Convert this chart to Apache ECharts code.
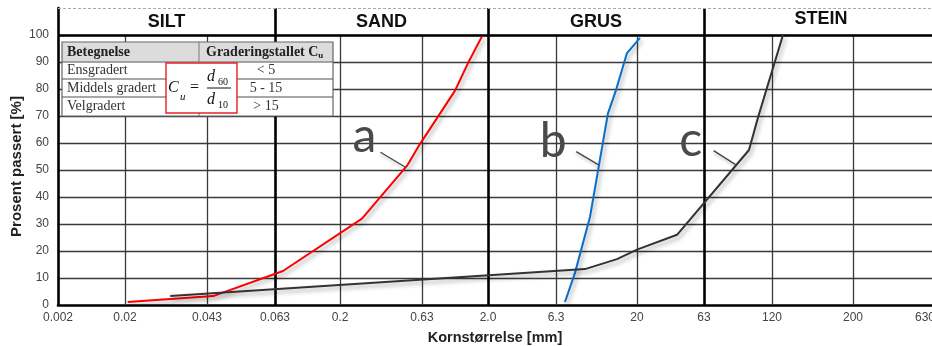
<!DOCTYPE html>
<html><head><meta charset="utf-8">
<script src="https://cdn.jsdelivr.net/npm/echarts@6/dist/echarts.min.js"></script>
<style>html,body{margin:0;padding:0;background:#fff}#c{width:932px;height:346px}</style>
</head><body><div id="c"></div>
<script>
// ---- axis definition (grain size in mm, non-uniform printed scale) ----
const tickSizes  = [0.002, 0.02, 0.043, 0.063, 0.2, 0.63, 2, 6.3, 20, 63, 120, 200, 630];
const tickLabels = ['0.002','0.02','0.043','0.063','0.2','0.63','2.0','6.3','20','63','120','200','630'];
const tickPos    = [0, 67, 149, 217, 282, 364, 430, 498, 579, 646, 714, 795, 867];
const axisEnd = 874;
const boundarySizes = [0.063, 2, 63];
const zoneNames = ['SILT', 'SAND', 'GRUS', 'STEIN'];
const zoneStarts = [0.002, 0.063, 2, 63];

// ---- curves: grain size [mm] and percent passing ----
const sizeA = [0.0205, 0.0445, 0.0726, 0.272, 0.51, 0.612, 1.12, 1.41, 1.80];
const passA = [1.1, 3.3, 12.6, 32, 51.5, 59.6, 79.3, 89.6, 99.5];
const sizeB = [7.16, 8.26, 10.23, 11.63, 13.22, 14.83, 17.34, 21.06];
const passB = [1.1, 11.9, 32.6, 51.8, 71, 79.6, 93.3, 98.9];
const sizeC = [0.0305, 9.53, 15.03, 20, 39.7, 96.5, 105, 128.6];
const passC = [3.3, 13.3, 17, 20.5, 26, 57.4, 69.3, 100];

const curveLabels = ['a', 'b', 'c'];
const labelSizes = [0.5, 11.5, 85];
const labelPass = [51, 52, 52];

// ---- table inset ----
const tableHead = ['Betegnelse', 'Graderingstallet C'];
const tableNames = ['Ensgradert', 'Middels gradert', 'Velgradert'];
const tableValues = ['< 5', '5 - 15', '> 15'];

function toPos(mm) {
  for (let i = 0; i < tickSizes.length - 1; i++) {
    const a = tickSizes[i], b = tickSizes[i + 1];
    if (mm <= b || i === tickSizes.length - 2) {
      const t = (Math.log10(mm) - Math.log10(a)) / (Math.log10(b) - Math.log10(a));
      return tickPos[i] + t * (tickPos[i + 1] - tickPos[i]);
    }
  }
}
const pts = (s, p) => s.map((v, i) => [toPos(v), p[i]]);

const shadow = {shadowColor: 'rgba(0,0,0,0.35)', shadowBlur: 4, shadowOffsetX: 2, shadowOffsetY: 3};

// grid lines via markLine
const gridLines = [];
tickPos.forEach((p, i) => {
  if (i === 0 || i === tickPos.length - 1) return;
  const thick = boundarySizes.includes(tickSizes[i]);
  gridLines.push([
    {coord: [p, 0], lineStyle: {color: thick ? '#000' : '#3a3a3a', width: thick ? 2.6 : 1.3, type: 'solid'}},
    {coord: [p, thick ? 110 : 100]}
  ]);
});
gridLines.push([{coord: [0, 100], lineStyle: {color: '#000', width: 2.6, type: 'solid'}}, {coord: [axisEnd, 100]}]);
gridLines.push([{coord: [0, 110], lineStyle: {color: '#aaa', width: 1, type: [3, 2]}}, {coord: [axisEnd, 110]}]);

const chart = echarts.init(document.getElementById('c'));
const baseFont = 'Liberation Sans, Arial, sans-serif';
chart.setOption({
  animation: false,
  backgroundColor: '#fff',
  grid: {left: 58, right: 0, top: 8, bottom: 41, outerBoundsMode: 'none', containLabel: false},
  xAxis: {
    type: 'value', min: 0, max: axisEnd,
    name: 'Kornstørrelse [mm]', nameLocation: 'middle', nameGap: 25, nameMoveOverlap: false,
    nameTextStyle: {fontFamily: baseFont, fontWeight: 'bold', fontSize: 14.5, color: '#222'},
    axisLine: {show: true, lineStyle: {color: '#000', width: 2.6}},
    axisTick: {show: false},
    splitLine: {show: false},
    axisLabel: {
      customValues: tickPos, margin: 7, hideOverlap: false,
      fontFamily: baseFont, fontSize: 12, color: '#444',
      formatter: v => { const i = tickPos.indexOf(v); return i >= 0 ? tickLabels[i] : ''; }
    }
  },
  yAxis: {
    type: 'value', min: 0, max: 110, interval: 10,
    name: 'Prosent passert [%]', nameLocation: 'middle', nameGap: 34, nameMoveOverlap: false,
    nameTextStyle: {fontFamily: baseFont, fontWeight: 'bold', fontSize: 15, color: '#222', padding: [0, 20, 0, 0]},
    axisLine: {show: true, lineStyle: {color: '#000', width: 2.6}},
    axisTick: {show: false},
    axisLabel: {fontFamily: baseFont, fontSize: 12, color: '#444', margin: 9,
      formatter: v => v > 100 ? '' : String(v)},
    splitLine: {show: true, showMinLine: false, showMaxLine: false, lineStyle: {color: '#3a3a3a', width: 1.3}}
  },
  series: [
    {type: 'line', data: [], z: 1, silent: true,
      markLine: {silent: true, symbol: 'none', label: {show: false}, animation: false, data: gridLines}},
    {type: 'line', name: 'a', data: pts(sizeA, passA), symbol: 'none', z: 5,
      lineStyle: Object.assign({color: '#ff0000', width: 2}, shadow)},
    {type: 'line', name: 'b', data: pts(sizeB, passB), symbol: 'none', z: 5,
      lineStyle: Object.assign({color: '#0a6fc8', width: 2}, shadow)},
    {type: 'line', name: 'c', data: pts(sizeC, passC), symbol: 'none', z: 5,
      lineStyle: Object.assign({color: '#333333', width: 2}, shadow)}
  ]
});

// ---- graphics: zone headers, curve labels, table ----
const px = (mm, p) => chart.convertToPixel({gridIndex: 0}, [toPos(mm), p]);
const g = [];
const endPx = chart.convertToPixel({gridIndex: 0}, [axisEnd, 105]);
zoneNames.forEach((n, i) => {
  const a = px(zoneStarts[i], 105);
  const bx = i < zoneStarts.length - 1 ? px(zoneStarts[i + 1], 105)[0] : endPx[0];
  g.push({type: 'text', z: 50, x: (a[0] + bx) / 2 + (i === 3 ? 3 : 0), y: a[1] + (i === 3 ? -2 : 1),
    style: {text: n, fontFamily: baseFont, fontWeight: 'bold', fontSize: 18, fill: '#111',
      align: 'center', verticalAlign: 'middle'}});
});
const lblOff = [[-41, -31, -25, -15], [-45, -23, -22, -13], [-45, -24, -22, -14]];
curveLabels.forEach((t, i) => {
  const P = px(labelSizes[i], labelPass[i]);
  const o = lblOff[i];
  g.push({type: 'line', z: 50, shape: {x1: P[0] + o[2], y1: P[1] + o[3], x2: P[0], y2: P[1]},
    style: Object.assign({stroke: '#444', lineWidth: 1.3}, {shadowColor: 'rgba(0,0,0,0.25)', shadowBlur: 3, shadowOffsetY: 2})});
  g.push({type: 'text', z: 50, x: P[0] + o[0], y: P[1] + o[1],
    style: {text: t, fontFamily: 'Lato, Open Sans, sans-serif', fontSize: 48, fill: '#4a4a4a',
      align: 'center', verticalAlign: 'middle'}});
});

// table
const serif = 'Liberation Serif, Times New Roman, serif';
const T = {x: 62, y: 42, w: 271, h: 74, col: 137, rows: [20, 37, 55]};
g.push({type: 'rect', z: 60, shape: {x: T.x, y: T.y, width: T.w, height: T.h}, style: {fill: '#fff'}});
g.push({type: 'rect', z: 60, shape: {x: T.x, y: T.y, width: T.w, height: T.rows[0]}, style: {fill: '#dcdcdc'}});
T.rows.forEach(r => g.push({type: 'line', z: 61, shape: {x1: T.x, y1: T.y + r, x2: T.x + T.w, y2: T.y + r},
  style: {stroke: '#8a8a8a', lineWidth: 1.5}}));
g.push({type: 'line', z: 61, shape: {x1: T.x + T.col, y1: T.y, x2: T.x + T.col, y2: T.y + T.h},
  style: {stroke: '#8a8a8a', lineWidth: 1.2}});
g.push({type: 'rect', z: 62, shape: {x: T.x, y: T.y, width: T.w, height: T.h},
  style: {fill: null, stroke: '#666', lineWidth: 1.2}});
g.push({type: 'text', z: 63, x: T.x + 5, y: T.y + 10, style: {text: tableHead[0], fontFamily: serif,
  fontWeight: 'bold', fontSize: 14, fill: '#222', verticalAlign: 'middle'}});
g.push({type: 'text', z: 63, x: T.x + T.col + 7, y: T.y + 10, style: {
  text: '{a|' + tableHead[1] + '}{s|u}', verticalAlign: 'middle',
  rich: {a: {fontFamily: serif, fontWeight: 'bold', fontSize: 14, fill: '#222', lineHeight: 16},
         s: {fontFamily: serif, fontWeight: 'bold', fontSize: 9, fill: '#222', lineHeight: 16, padding: [7, 0, 0, 0]}}}});
const rowMid = [28.5, 46, 64.5];
tableNames.forEach((n, i) => {
  g.push({type: 'text', z: 63, x: T.x + 5, y: T.y + rowMid[i], style: {text: n, fontFamily: serif,
    fontSize: 14, fill: '#333', verticalAlign: 'middle'}});
  g.push({type: 'text', z: 63, x: 266, y: T.y + rowMid[i], style: {text: tableValues[i], fontFamily: serif,
    fontSize: 14, fill: '#333', align: 'center', verticalAlign: 'middle'}});
});
// formula box
g.push({type: 'rect', z: 64, shape: {x: 166, y: 63, width: 71, height: 50},
  style: {fill: '#fff', stroke: '#e8202a', lineWidth: 1.4}});
const it = (t, x, y, fs) => ({type: 'text', z: 65, x, y, style: {text: t, fontFamily: serif, fontStyle: 'italic',
  fontSize: fs, fill: '#111', verticalAlign: 'middle'}});
g.push(it('C', 168, 88, 16));
g.push(it('u', 180, 97, 11));
g.push({type: 'text', z: 65, x: 190, y: 88, style: {text: '=', fontFamily: serif, fontSize: 16, fill: '#111', verticalAlign: 'middle'}});
g.push(it('d', 207, 77, 16));
g.push({type: 'text', z: 65, x: 218, y: 82, style: {text: '60', fontFamily: serif, fontSize: 10, fill: '#111', verticalAlign: 'middle'}});
g.push({type: 'line', z: 65, shape: {x1: 207, y1: 88, x2: 231, y2: 88}, style: {stroke: '#111', lineWidth: 1}});
g.push(it('d', 207, 100, 16));
g.push({type: 'text', z: 65, x: 218, y: 105, style: {text: '10', fontFamily: serif, fontSize: 10, fill: '#111', verticalAlign: 'middle'}});

chart.setOption({graphic: {elements: g}});
</script>
</body></html>
